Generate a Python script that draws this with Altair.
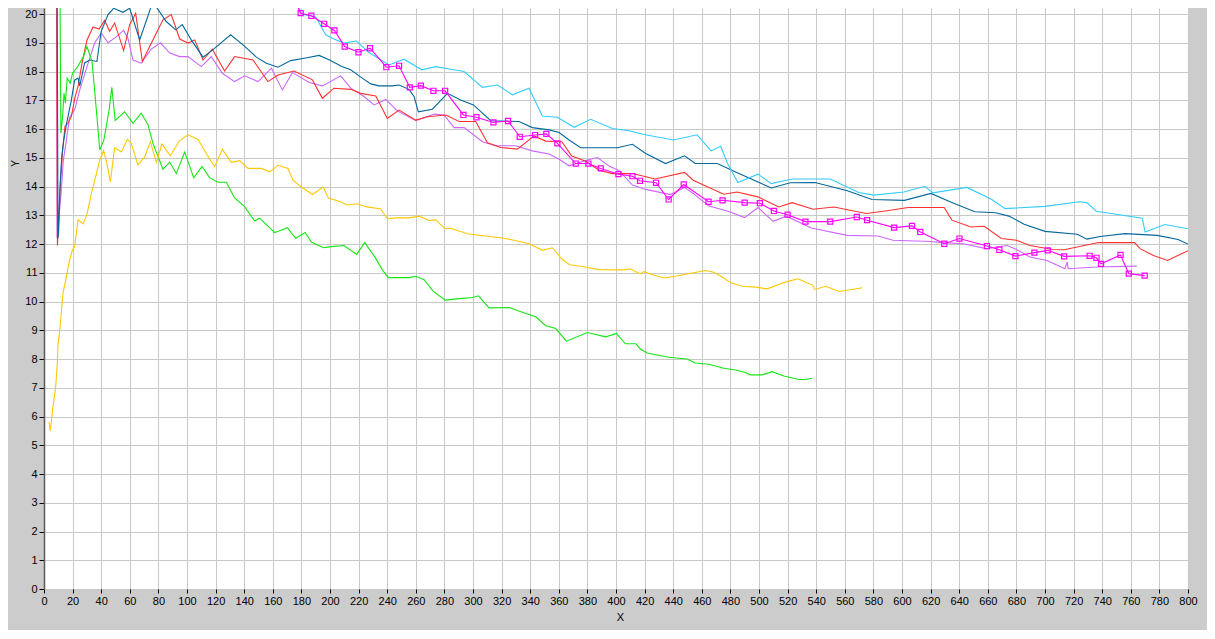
import altair as alt
import pandas as pd

# ---- data ----
GREEN = [(10.8, 24.0), (11.8, 15.85), (13.0, 16.43), (14.0, 17.24), (15.0, 16.9), (16.2, 17.77), (18.3, 17.6),
         (20, 17.94), (23.6, 18.17), (27.6, 18.52), (30, 18.87), (33.6, 18.35), (36, 17.01), (39, 15.27),
         (41.9, 15.62), (45.5, 16.66), (47.4, 17.45), (49.8, 16.3), (56.4, 16.6), (62.2, 16.2), (68, 16.55),
         (72.7, 16.15), (76.2, 15.5), (79.7, 15.05), (83.2, 14.6), (87.9, 14.85), (92.5, 14.45), (98.4, 15.2),
         (104.7, 14.3), (110.5, 14.7), (115.9, 14.3), (121.7, 14.15), (127.5, 14.15), (133.3, 13.6), (140.3, 13.3),
         (147.3, 12.8), (150.8, 12.9), (161.3, 12.4), (164.4, 12.45), (170.2, 12.57), (176, 12.2), (182.6, 12.4),
         (187, 12.07), (195.4, 11.87), (199.3, 11.9), (209.8, 11.95), (218.7, 11.64), (224.3, 12.05), (232, 11.5),
         (236.6, 11.1), (240.8, 10.83), (255.3, 10.83), (260, 10.88), (265.8, 10.76), (272.1, 10.36), (280.5, 10.05),
         (290.3, 10.1), (299.6, 10.14), (303.8, 10.2), (311.2, 9.78), (325.2, 9.79), (336.9, 9.58), (343.9, 9.47),
         (350.9, 9.16), (357.9, 9.06), (365.3, 8.62), (380, 8.92), (392.8, 8.77), (400.3, 8.89), (406.5, 8.53),
         (414, 8.53), (417, 8.35), (421.7, 8.21), (428.7, 8.14), (436.9, 8.06), (449.7, 8.0), (455.5, 7.86),
         (464.9, 7.82), (475.4, 7.68), (483.5, 7.62), (490.5, 7.53), (494, 7.45), (502.2, 7.45), (509.2, 7.56),
         (517.4, 7.41), (527.9, 7.29), (532.6, 7.29), (537.2, 7.33)]

YELLOW = [(3.5, 5.8), (4.4, 5.5), (6.3, 6.35), (8.2, 7.04), (9.3, 7.85), (9.8, 8.5), (11, 9.0), (12.1, 9.6),
          (13.3, 10.3), (15.6, 10.85), (17.9, 11.43), (19.8, 11.78), (21.4, 11.9), (23.8, 12.85), (27.3, 12.7),
          (30.1, 13.05), (33.1, 13.75), (35.4, 14.2), (38.9, 14.9), (41.7, 15.25), (44, 14.8), (46.4, 14.16),
          (49.4, 15.35), (54.1, 15.2), (58.3, 15.64), (61, 15.5), (65.7, 14.75), (70.4, 15.03), (74.4, 15.56),
          (78.6, 14.84), (82.5, 15.48), (88.3, 15.07), (94.9, 15.6), (100.7, 15.8), (107.7, 15.64), (113.5, 15.15),
          (119.3, 14.69), (124.7, 15.29), (131, 14.84), (136.8, 14.9), (142.7, 14.63), (152, 14.63), (157.8, 14.51),
          (163.6, 14.74), (170.6, 14.63), (174.1, 14.22), (179.5, 14.0), (187.7, 13.72), (195.2, 13.98),
          (198.9, 13.6), (206.3, 13.49), (212.2, 13.36), (219.2, 13.4), (225, 13.3), (235.5, 13.22), (240.1, 12.88),
          (246, 12.91), (255.3, 12.91), (262.3, 12.97), (269.3, 12.82), (273.9, 12.84), (280.5, 12.53),
          (284.4, 12.55), (296.1, 12.36), (310.1, 12.27), (319.4, 12.22), (328.7, 12.13), (339.2, 12.01),
          (348.5, 11.78), (355.5, 11.87), (362.5, 11.46), (367.6, 11.28), (376.5, 11.22), (388.2, 11.11),
          (405.4, 11.1), (410, 11.14), (417, 10.96), (419.4, 11.04), (425.2, 10.94), (433.4, 10.82), (441.5, 10.88),
          (449.7, 10.96), (462.5, 11.08), (468.4, 11.02), (474.2, 10.85), (480.7, 10.64), (488.2, 10.53),
          (497.5, 10.5), (505.7, 10.44), (513.9, 10.59), (520.9, 10.71), (527.4, 10.79), (532.6, 10.67),
          (537.2, 10.58), (539.1, 10.42), (546.6, 10.53), (555.9, 10.35), (565.2, 10.42), (572.2, 10.48)]

RED = [(8.8, 22.0), (9.4, 11.95), (10.6, 13.3), (11.6, 14.2), (13.0, 15.27), (14.7, 16.1), (16.8, 16.2),
       (19.1, 16.43), (21.7, 17.1), (23.8, 17.48), (26.8, 18.35), (30.1, 19.1), (34.3, 19.55), (38.5, 19.48),
       (42.4, 19.78), (45.9, 19.4), (49.4, 19.69), (55.7, 18.73), (59.9, 19.63), (64.1, 20.03), (68.8, 18.35),
       (73.9, 18.87), (78.6, 19.34), (83.2, 19.8), (89, 19.98), (94.9, 19.13), (100.7, 18.99), (105.4, 19.1),
       (111.2, 18.4), (117.7, 18.78), (126.3, 18.02), (133.3, 18.52), (146.2, 18.4), (156.6, 17.65),
       (163.6, 17.88), (174.9, 18.02), (187.7, 17.71), (194.7, 17.07), (202.8, 17.42), (214.5, 17.38),
       (221.5, 17.24), (232, 17.15), (240.1, 16.37), (248.3, 16.66), (260, 16.31), (268.1, 16.43), (281, 16.49),
       (290.3, 16.26), (301.9, 16.26), (310.1, 15.52), (319.4, 15.36), (331, 15.3), (342.7, 15.76),
       (350.9, 15.58), (362.1, 15.56), (369.1, 15.06), (378.8, 14.88), (388.2, 14.57), (397.5, 14.45),
       (411.5, 14.45), (427.4, 14.26), (447.9, 14.49), (454, 14.22), (475.3, 13.73), (484.6, 13.81),
       (499.3, 13.64), (513.9, 13.29), (523.2, 13.44), (537.8, 13.21), (552.4, 13.29), (575, 13.06),
       (588.3, 13.15), (604.3, 13.27), (629.5, 13.27), (634.9, 12.83), (648.2, 12.59), (657.5, 12.62),
       (669.5, 12.19), (680.1, 12.13), (689.4, 11.95), (705.4, 11.81), (713.4, 11.8), (737.3, 12.05),
       (762.6, 12.05), (766.5, 11.84), (775.8, 11.6), (785.7, 11.43), (800, 11.77)]

BLUE = [(9.0, 24.0), (9.8, 12.2), (10.3, 12.5), (11.2, 13.99), (12.4, 15.03), (13.8, 15.6), (15.8, 16.2),
        (19.1, 17.0), (21.4, 17.7), (23.8, 17.77), (25, 17.5), (28.4, 18.3), (31.9, 18.4), (37, 18.35),
        (40, 19.4), (44.8, 19.98), (48.7, 20.2), (55.2, 20.06), (59.9, 20.2), (66.9, 19.1), (75, 20.27),
        (78.6, 20.24), (85.5, 19.74), (92.1, 19.45), (96.7, 19.63), (103, 19.1), (111.2, 18.5), (118.2, 18.76),
        (130.5, 19.28), (139.2, 18.93), (148.5, 18.5), (155.5, 18.29), (163.6, 18.15), (172.5, 18.38),
        (183, 18.47), (192.4, 18.56), (199.3, 18.41), (208.7, 18.17), (214.5, 18.06), (220.3, 17.85),
        (228.5, 17.57), (234.3, 17.5), (243.6, 17.5), (248.3, 17.53), (255.3, 17.38), (258.8, 17.13),
        (261.8, 16.6), (271.6, 16.69), (282.1, 17.24), (291.4, 17.01), (300.3, 16.84), (306.6, 16.55),
        (312.4, 16.29), (332.2, 16.26), (341.5, 16.05), (353.2, 15.97), (360.2, 15.88), (367.2, 15.62),
        (375.3, 15.35), (401, 15.35), (411.5, 15.47), (420.8, 15.15), (434.6, 14.8), (447.9, 15.07),
        (455.4, 14.8), (470.8, 14.8), (486, 14.45), (508.6, 13.95), (521.9, 14.13), (539.1, 14.14),
        (561.8, 13.85), (579, 13.55), (601.7, 13.52), (620.3, 13.76), (633.6, 13.47), (650.9, 13.12),
        (665.5, 13.09), (674.8, 12.97), (685.4, 12.69), (700, 12.44), (722.6, 12.34), (729.3, 12.17),
        (738.6, 12.26), (755.9, 12.36), (778.5, 12.3), (793.1, 12.16), (800, 12.0)]

PURPLE = [(8.6, 24.0), (9.2, 12.2), (10.4, 12.9), (12.0, 13.8), (13.5, 14.9), (15.6, 15.6), (17.9, 16.4),
          (21.4, 16.66), (25, 17.36), (30.1, 18.17), (35.4, 18.99), (40, 19.34), (44.8, 19.0), (49.4, 19.16),
          (55.7, 19.43), (58.7, 19.16), (62.2, 18.4), (68, 18.29), (75, 18.78), (81.4, 19.0), (87.9, 18.64),
          (94.9, 18.52), (100.7, 18.52), (110, 18.17), (117, 18.52), (124.7, 17.94), (133.3, 17.65),
          (140.3, 17.85), (149.7, 17.65), (159, 18.12), (166.7, 17.36), (173.7, 17.97), (185.4, 17.62),
          (194.7, 17.5), (207.5, 17.85), (214.5, 17.42), (223.8, 17.13), (230.8, 16.84), (239, 17.03),
          (247.1, 16.63), (260, 16.29), (272.8, 16.52), (279.8, 16.49), (286.8, 16.05), (293.8, 16.05),
          (306.6, 15.56), (315.9, 15.42), (329.9, 15.42), (341.5, 15.24), (353.2, 15.13), (360.2, 14.95),
          (367.2, 14.72), (380, 14.92), (387, 15.01), (395.2, 14.71), (402.2, 14.55), (411.5, 14.05),
          (420.8, 13.9), (438.1, 13.72), (447.9, 13.97), (454, 13.76), (464.7, 13.33), (479.3, 13.12),
          (490, 12.92), (499.3, 13.27), (509.9, 12.79), (519.2, 12.97), (536.5, 12.56), (561.8, 12.3),
          (583.1, 12.28), (593.7, 12.13), (620.3, 12.09), (628.2, 12.05), (642.9, 12.01), (658.9, 11.84),
          (673.5, 11.95), (680.1, 11.81), (689.4, 11.55), (701.4, 11.43), (713.9, 11.14), (715.5, 11.37),
          (716.2, 11.14), (736.3, 11.2), (764.2, 11.23)]

CYAN = [(9, 22.5), (40, 22.0), (80, 21.5), (110, 21.0), (127, 20.5), (135, 20.4), (141, 20.38), (144.5, 20.3),
        (148.5, 20.44), (155, 20.8), (170, 20.9), (176, 20.5), (180.2, 20.0), (190, 19.9), (197, 19.28),
        (202.8, 19.13), (209.8, 18.99), (218.5, 19.06), (227.3, 18.66), (241.3, 18.23), (251.8, 18.43),
        (264.1, 18.06), (273.9, 18.17), (283.3, 18.09), (293.8, 18.0), (306.6, 17.45), (317.1, 17.53),
        (327.6, 17.19), (339.2, 17.42), (348.5, 16.45), (359, 16.41), (370.7, 16.06), (382.3, 16.34),
        (397.5, 16.02), (409.1, 15.94), (419.5, 15.81), (440.2, 15.62), (456.7, 15.8), (466.5, 15.24),
        (473.2, 15.4), (478, 14.8), (485.2, 14.14), (499.3, 14.43), (508.6, 14.1), (523.2, 14.26),
        (549.8, 14.26), (569.7, 13.79), (580.4, 13.7), (601.4, 13.81), (616, 14.01), (621.6, 13.78),
        (645.5, 13.97), (662.8, 13.55), (672.1, 13.23), (700, 13.31), (724, 13.47), (729.2, 13.44),
        (735.9, 13.14), (768, 12.9), (770, 12.42), (783.8, 12.68), (800, 12.53)]

MAGENTA = [(150, 22.0), (172, 20.8), (179.5, 20.03), (187, 19.94), (195.9, 19.66), (203.1, 19.43), (210.3, 18.87),
           (219.9, 18.67), (228, 18.81), (239.4, 18.15), (248.3, 18.2), (255.8, 17.45), (263.5, 17.51),
           (272.3, 17.33), (280.5, 17.33), (293.3, 16.49), (302.4, 16.41), (314.3, 16.23), (324.5, 16.28),
           (332.7, 15.73), (343.4, 15.79), (351.3, 15.83), (359, 15.5), (371.8, 14.8), (380.7, 14.8),
           (389.3, 14.63), (401.7, 14.43), (411.5, 14.36), (416.8, 14.2), (428, 14.13), (436.8, 13.55),
           (447.4, 14.07), (464.7, 13.47), (474.5, 13.52), (490, 13.44), (500.6, 13.42), (510.4, 13.15),
           (520, 13.02), (532.5, 12.78), (549.8, 12.78), (568.4, 12.94), (575.6, 12.83), (594.5, 12.57),
           (607, 12.63), (612.8, 12.42), (629.6, 12.01), (640.2, 12.19), (659.4, 11.93), (668.1, 11.8),
           (679.3, 11.58), (692.6, 11.7), (701.9, 11.78), (713.4, 11.57), (731.2, 11.59), (736, 11.52),
           (739.2, 11.31), (752.8, 11.62), (758.6, 10.97), (769.7, 10.9)]

# drawing order: first drawn at the bottom
SERIES_NAMES = ["Plot 4", "Plot 0", "Plot 1", "Plot 2", "Plot 3", "Plot 5", "Plot 6"]
SERIES_DATA = [PURPLE, RED, BLUE, GREEN, YELLOW, CYAN, MAGENTA]
SERIES_COLORS = ["#cc66ff", "#ff3030", "#05679c", "#14e614", "#ffc800", "#33ccff", "#ff00ff"]

X_TICKS = list(range(0, 801, 20))
Y_TICKS = list(range(0, 21))

rows = []
for k, (name, pts) in enumerate(zip(SERIES_NAMES, SERIES_DATA)):
    for i, (xv, yv) in enumerate(pts):
        rows.append({"series": name, "k": k, "x": xv, "y": yv, "i": i})
df = pd.DataFrame(rows)

FONT = "Liberation Sans"

x_axis = alt.Axis(values=X_TICKS, title="X", grid=True, gridColor="#c8c8c8", gridWidth=1,
                  domain=False, ticks=True, tickColor="#000000", tickSize=4, tickWidth=1,
                  labelFont=FONT, labelFontSize=11, labelColor="#000000", labelPadding=2,
                  labelFlush=False, labelOverlap=False,
                  titleFont=FONT, titleFontSize=11, titleFontWeight="normal", titleColor="#000000",
                  titleX=576, titleY=28, titleBaseline="middle", titleAlign="center")
y_axis = alt.Axis(values=Y_TICKS, title="Y", grid=True, gridColor="#c8c8c8", gridWidth=1,
                  domain=True, domainColor="#5a5a5a", domainWidth=1.5,
                  ticks=True, tickColor="#000000", tickSize=5, tickWidth=1,
                  labelFont=FONT, labelFontSize=11, labelColor="#000000", labelPadding=2,
                  labelFlush=False, labelOverlap=False,
                  titleFont=FONT, titleFontSize=10, titleFontWeight="normal", titleColor="#000000",
                  titleAngle=270, titleX=-24, titleY=155, titleAlign="center",
                  titleBaseline="bottom")

x_scale = alt.Scale(domain=[0, 800], nice=False, zero=False)
y_scale = alt.Scale(domain=[0, 20.21], nice=False, zero=False)

lines = alt.Chart(df).mark_line(clip=True, strokeWidth=1.1, interpolate="linear").encode(
    x=alt.X("x:Q", scale=x_scale, axis=x_axis),
    y=alt.Y("y:Q", scale=y_scale, axis=y_axis),
    color=alt.Color("series:N", scale=alt.Scale(domain=SERIES_NAMES, range=SERIES_COLORS), legend=None),
    detail="series:N",
    order="i:Q",
)

markers = alt.Chart(df[df["series"] == "Plot 6"]).mark_point(
    shape="square", filled=False, size=26, strokeWidth=1.2, clip=True, opacity=1, color="#ff00ff"
).encode(
    x=alt.X("x:Q", scale=x_scale, axis=x_axis),
    y=alt.Y("y:Q", scale=y_scale, axis=y_axis),
)

chart = alt.layer(lines, markers).properties(
    width=1144,
    height=581,
    autosize=alt.AutoSizeParams(type="none"),
    padding={"left": 36, "top": 0, "right": 19, "bottom": 41},
).configure(background="#cccccc").configure_axis(
    labelOverlap=False, labelFlush=False, labelBound=False
).configure_view(fill="white", strokeWidth=0)

chart.save("out.html", embed_options={"renderer": "svg", "actions": False})
